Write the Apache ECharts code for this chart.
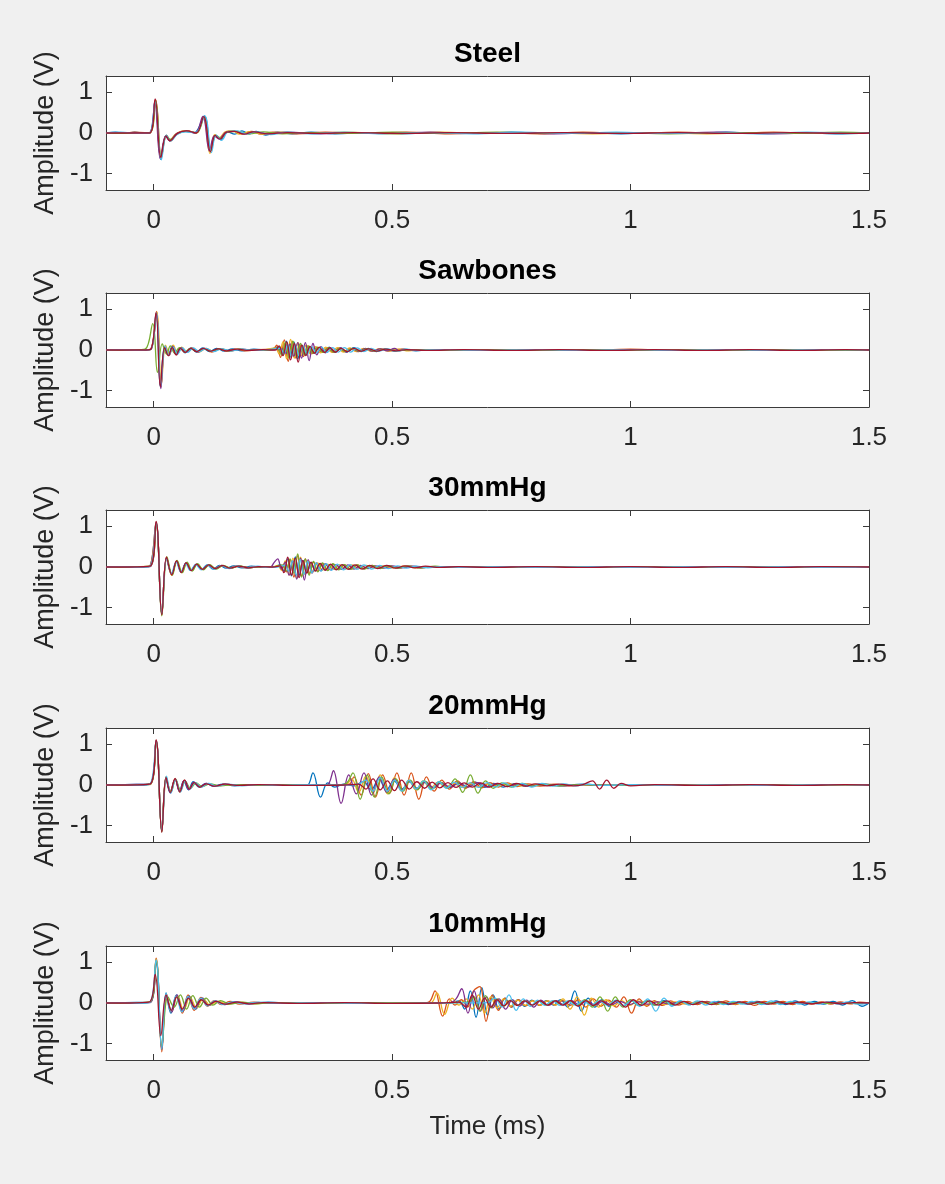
<!DOCTYPE html>
<html>
<head>
<meta charset="utf-8">
<script src="https://cdn.jsdelivr.net/npm/echarts@6/dist/echarts.min.js"></script>
<style>
html,body{margin:0;padding:0;background:#f0f0f0;}
#chart{width:945px;height:1184px;}
</style>
</head>
<body>
<div id="chart"></div>
<script>
// ---------- DATA ----------
const panelTitles = ['Steel', 'Sawbones', '30mmHg', '20mmHg', '10mmHg'];
const xTicks = [0, 0.5, 1, 1.5];
const yTicks = [-1, 0, 1];
const xRange = [-0.1, 1.5];
const yRange = [-1.4, 1.4];
const traceColors = ['#0072BD', '#D95319', '#EDB120', '#7E2F8E', '#77AC30', '#4DBEEE', '#A2142F'];

const steel = [
  [[-0.1,0],[-0.08,0.02],[-0.06,-0.01],[-0.04,0.02],[-0.02,0],[-0.008,0.01],[0.003,0.78],[0.015,-0.65],[0.026,-0.06],[0.034,-0.18],[0.048,-0.02],[0.065,0.04],[0.085,0.01],[0.106,0.42],[0.12,-0.42],[0.13,-0.05],[0.14,-0.16],[0.155,0.03],[0.17,-0.03],[0.185,0.05],[0.2,-0.02],[0.215,0.04],[0.235,-0.05],[0.26,0.02],[0.29,-0.02],[0.33,0.02],[0.38,-0.02],[0.45,0.01],[0.52,-0.02],[0.6,0.01],[0.68,-0.01],[0.75,0.02],[0.83,-0.01],[0.9,0.01],[0.98,-0.02],[1.05,0.01],[1.13,-0.01],[1.2,0.02],[1.28,-0.01],[1.35,0.01],[1.43,-0.02],[1.5,0]],
  [[-0.1,0],[-0.07,-0.01],[-0.04,0.02],[-0.01,0],[0.004,0.82],[0.016,-0.6],[0.027,-0.05],[0.035,-0.2],[0.05,0],[0.07,0.05],[0.088,0],[0.105,0.4],[0.119,-0.45],[0.129,-0.06],[0.139,-0.14],[0.152,0.02],[0.168,0.05],[0.185,-0.02],[0.205,0.04],[0.225,-0.03],[0.25,0.02],[0.3,-0.02],[0.36,0.02],[0.44,-0.01],[0.53,0.02],[0.62,-0.02],[0.72,0.01],[0.81,-0.02],[0.9,0.02],[1.0,-0.01],[1.1,0.02],[1.2,-0.01],[1.3,0.02],[1.4,-0.01],[1.5,0]],
  [[-0.1,0],[-0.05,0.01],[-0.009,0],[0.003,0.75],[0.015,-0.62],[0.026,-0.08],[0.033,-0.17],[0.047,-0.02],[0.066,0.06],[0.09,0],[0.104,0.38],[0.118,-0.5],[0.128,-0.04],[0.137,-0.12],[0.15,0.03],[0.165,0.06],[0.18,-0.03],[0.2,0.03],[0.23,-0.03],[0.27,0.02],[0.33,-0.01],[0.4,0.02],[0.5,-0.02],[0.6,0.02],[0.7,-0.01],[0.8,0.01],[0.92,-0.02],[1.04,0.01],[1.16,-0.02],[1.28,0.01],[1.4,-0.01],[1.5,0]],
  [[-0.1,0],[-0.06,0.01],[-0.009,0],[0.002,0.76],[0.014,-0.63],[0.025,-0.07],[0.033,-0.19],[0.049,-0.01],[0.068,0.05],[0.087,0],[0.103,0.41],[0.117,-0.44],[0.127,-0.07],[0.137,-0.15],[0.152,0.02],[0.17,0.04],[0.19,-0.02],[0.21,0.03],[0.24,-0.02],[0.28,0.02],[0.35,-0.02],[0.42,0.01],[0.5,-0.01],[0.58,0.02],[0.66,-0.01],[0.74,0.01],[0.84,-0.02],[0.94,0.01],[1.06,-0.01],[1.18,0.02],[1.3,-0.02],[1.42,0.01],[1.5,0]],
  [[-0.1,0],[-0.05,-0.01],[-0.009,0],[0.004,0.8],[0.016,-0.58],[0.027,-0.06],[0.035,-0.16],[0.05,-0.02],[0.068,0.04],[0.09,0.01],[0.106,0.39],[0.12,-0.43],[0.131,-0.06],[0.141,-0.13],[0.155,0.02],[0.175,0.04],[0.2,-0.02],[0.23,0.03],[0.27,-0.02],[0.32,0.01],[0.4,-0.01],[0.5,0.02],[0.6,-0.01],[0.72,0.02],[0.84,-0.01],[0.96,0.01],[1.08,-0.02],[1.2,0.01],[1.32,-0.01],[1.44,0.02],[1.5,0]],
  [[-0.1,0],[-0.07,0.02],[-0.03,-0.01],[-0.009,0],[0.003,0.77],[0.016,-0.66],[0.027,-0.05],[0.035,-0.2],[0.05,-0.03],[0.067,0.03],[0.088,0.01],[0.107,0.42],[0.121,-0.48],[0.131,-0.05],[0.142,-0.18],[0.157,0.04],[0.175,0.05],[0.195,-0.02],[0.215,0.03],[0.245,-0.04],[0.28,0.02],[0.33,-0.02],[0.4,0.02],[0.48,-0.02],[0.57,0.01],[0.67,-0.02],[0.77,0.02],[0.87,-0.01],[0.97,0.02],[1.07,-0.01],[1.17,0.01],[1.27,-0.02],[1.37,0.02],[1.47,-0.01],[1.5,0]],
  [[-0.1,0],[-0.06,0],[-0.009,0],[0.003,0.84],[0.015,-0.6],[0.026,-0.07],[0.034,-0.19],[0.05,-0.01],[0.069,0.05],[0.089,0],[0.105,0.4],[0.119,-0.46],[0.129,-0.06],[0.139,-0.15],[0.153,0.02],[0.17,0.04],[0.19,-0.03],[0.21,0.03],[0.24,-0.02],[0.28,0.01],[0.34,-0.01],[0.42,0.01],[0.52,-0.01],[0.62,0.01],[0.74,-0.01],[0.86,0.01],[0.98,-0.01],[1.1,0.01],[1.22,-0.01],[1.34,0.01],[1.46,-0.01],[1.5,0]]
];

const sawbones = [
  [[-0.1,0],[-0.06,0.01],[-0.02,0],[-0.006,0.02],[0.005,0.9],[0.014,-0.9],[0.023,0.08],[0.031,-0.12],[0.039,0.1],[0.047,-0.1],[0.056,0.06],[0.066,-0.07],[0.078,0.05],[0.09,-0.05],[0.103,0.05],[0.117,-0.04],[0.132,0.04],[0.148,-0.03],[0.165,0.03],[0.185,-0.02],[0.21,0.02],[0.24,0],[0.262,0.08],[0.27,-0.12],[0.278,0.22],[0.286,-0.18],[0.294,0.2],[0.302,-0.22],[0.31,0.12],[0.318,-0.12],[0.327,0.08],[0.336,-0.07],[0.346,0.06],[0.357,-0.06],[0.368,0.07],[0.38,-0.06],[0.392,0.05],[0.405,-0.05],[0.42,0.06],[0.435,-0.04],[0.45,0.04],[0.467,-0.04],[0.485,0.03],[0.505,-0.03],[0.525,0.02],[0.55,-0.02],[0.58,0.01],[0.65,-0.01],[0.75,0.01],[0.85,-0.01],[0.95,0.01],[1.05,-0.01],[1.15,0.01],[1.25,-0.01],[1.35,0.01],[1.45,-0.01],[1.5,0]],
  [[-0.1,0],[-0.05,-0.01],[-0.02,0],[-0.006,0.03],[0.006,0.95],[0.015,-0.92],[0.024,0.1],[0.032,-0.14],[0.04,0.08],[0.048,-0.12],[0.057,0.05],[0.067,-0.06],[0.08,0.05],[0.093,-0.04],[0.107,0.04],[0.122,-0.05],[0.137,0.03],[0.153,-0.03],[0.172,0.02],[0.195,-0.02],[0.22,0.01],[0.25,0.02],[0.258,0.12],[0.266,-0.18],[0.274,0.25],[0.282,-0.28],[0.29,0.22],[0.298,-0.2],[0.306,0.14],[0.314,-0.16],[0.323,0.1],[0.332,-0.09],[0.342,0.07],[0.353,-0.06],[0.364,0.05],[0.376,-0.06],[0.388,0.05],[0.4,-0.04],[0.413,0.04],[0.427,-0.04],[0.442,0.03],[0.458,-0.03],[0.475,0.03],[0.495,-0.02],[0.52,0.02],[0.55,-0.01],[0.6,0.01],[0.7,-0.01],[0.8,0.01],[0.9,-0.01],[1.0,0.02],[1.1,-0.01],[1.2,0.01],[1.3,-0.01],[1.4,0.01],[1.5,0]],
  [[-0.1,0],[-0.04,0.01],[-0.015,0],[-0.004,0.05],[0.007,0.93],[0.016,-0.85],[0.025,0.12],[0.033,-0.1],[0.041,0.12],[0.05,-0.08],[0.059,0.07],[0.07,-0.05],[0.082,0.04],[0.095,-0.05],[0.11,0.04],[0.125,-0.03],[0.142,0.03],[0.16,-0.02],[0.18,0.02],[0.205,-0.01],[0.235,0.01],[0.255,0.05],[0.263,-0.1],[0.271,0.2],[0.279,-0.22],[0.287,0.26],[0.295,-0.2],[0.303,0.18],[0.311,-0.14],[0.32,0.12],[0.329,-0.1],[0.339,0.08],[0.35,-0.07],[0.361,0.07],[0.373,-0.05],[0.385,0.06],[0.398,-0.05],[0.411,0.05],[0.425,-0.04],[0.44,0.04],[0.456,-0.03],[0.473,0.03],[0.492,-0.03],[0.512,0.02],[0.535,-0.02],[0.56,0.01],[0.62,-0.01],[0.72,0.01],[0.82,-0.01],[0.92,0.01],[1.02,-0.01],[1.12,0.01],[1.22,-0.01],[1.32,0.01],[1.42,-0.01],[1.5,0]],
  [[-0.1,0],[-0.05,0.01],[-0.016,0],[-0.005,0.03],[0.006,0.88],[0.015,-0.95],[0.024,0.08],[0.032,-0.13],[0.04,0.09],[0.049,-0.11],[0.058,0.06],[0.068,-0.06],[0.08,0.04],[0.093,-0.05],[0.107,0.04],[0.122,-0.03],[0.14,0.03],[0.16,-0.02],[0.185,0.02],[0.215,-0.01],[0.245,0],[0.27,0.02],[0.278,-0.08],[0.286,0.15],[0.294,-0.15],[0.302,0.18],[0.31,-0.2],[0.318,0.18],[0.326,-0.26],[0.334,0.16],[0.342,-0.12],[0.351,0.08],[0.36,-0.07],[0.37,0.06],[0.381,-0.05],[0.392,0.05],[0.404,-0.05],[0.417,0.04],[0.43,-0.04],[0.444,0.04],[0.459,-0.03],[0.475,0.03],[0.49,-0.02],[0.505,0.04],[0.515,-0.02],[0.53,0.01],[0.57,-0.01],[0.65,0.01],[0.75,-0.01],[0.85,0.01],[0.95,-0.01],[1.05,0.01],[1.15,-0.01],[1.25,0.01],[1.35,-0.01],[1.45,0.01],[1.5,0]],
  [[-0.1,0],[-0.04,0],[-0.018,0.02],[-0.002,0.65],[0.008,-0.55],[0.018,0.15],[0.027,-0.1],[0.035,0.1],[0.044,-0.08],[0.054,0.06],[0.065,-0.05],[0.077,0.04],[0.09,-0.04],[0.105,0.03],[0.12,-0.03],[0.138,0.03],[0.158,-0.02],[0.18,0.02],[0.21,-0.01],[0.24,0],[0.26,0.03],[0.268,-0.12],[0.276,0.18],[0.284,-0.2],[0.292,0.22],[0.3,-0.18],[0.308,0.16],[0.316,-0.12],[0.325,0.1],[0.334,-0.08],[0.344,0.07],[0.355,-0.06],[0.366,0.05],[0.378,-0.05],[0.39,0.04],[0.403,-0.04],[0.417,0.04],[0.432,-0.03],[0.448,0.03],[0.466,-0.03],[0.485,0.02],[0.51,-0.02],[0.54,0.01],[0.6,-0.01],[0.7,0.01],[0.8,-0.01],[0.9,0.01],[1.0,-0.01],[1.1,0.01],[1.2,-0.01],[1.3,0.01],[1.4,-0.01],[1.5,0]],
  [[-0.1,0],[-0.07,0.01],[-0.03,-0.01],[-0.015,0],[-0.004,0.04],[0.006,0.92],[0.015,-0.88],[0.024,0.1],[0.032,-0.12],[0.041,0.07],[0.05,-0.1],[0.06,0.05],[0.071,-0.06],[0.083,0.05],[0.096,-0.04],[0.11,0.04],[0.126,-0.04],[0.143,0.03],[0.162,-0.02],[0.185,0.02],[0.212,-0.01],[0.24,0.01],[0.265,0.04],[0.273,-0.1],[0.281,0.14],[0.289,-0.16],[0.297,0.12],[0.305,-0.14],[0.313,0.1],[0.322,-0.1],[0.331,0.08],[0.341,-0.07],[0.352,0.07],[0.363,-0.06],[0.375,0.06],[0.387,-0.05],[0.4,0.06],[0.413,-0.05],[0.427,0.05],[0.441,-0.04],[0.456,0.04],[0.472,-0.03],[0.49,0.03],[0.51,-0.02],[0.53,0.02],[0.555,-0.01],[0.6,0.01],[0.7,-0.01],[0.8,0.01],[0.9,-0.01],[1.0,0.01],[1.1,-0.01],[1.2,0.01],[1.3,-0.01],[1.4,0.01],[1.5,0]],
  [[-0.1,0],[-0.05,0],[-0.016,0],[-0.005,0.03],[0.005,0.92],[0.014,-0.9],[0.023,0.06],[0.031,-0.14],[0.039,0.06],[0.047,-0.12],[0.056,0.04],[0.066,-0.06],[0.078,0.04],[0.09,-0.04],[0.104,0.04],[0.119,-0.03],[0.135,0.03],[0.153,-0.02],[0.175,0.02],[0.2,-0.01],[0.23,0.01],[0.255,0],[0.263,0.1],[0.271,-0.14],[0.279,0.2],[0.287,-0.24],[0.295,0.16],[0.303,-0.3],[0.311,0.12],[0.319,-0.14],[0.328,0.09],[0.337,-0.08],[0.347,0.07],[0.358,-0.06],[0.369,0.05],[0.381,-0.05],[0.393,0.04],[0.406,-0.04],[0.42,0.04],[0.435,-0.03],[0.451,0.03],[0.468,-0.03],[0.487,0.02],[0.508,-0.02],[0.53,0.01],[0.57,-0.01],[0.65,0.01],[0.75,-0.01],[0.85,0.01],[0.95,-0.01],[1.05,0.01],[1.15,-0.01],[1.25,0.01],[1.35,-0.01],[1.45,0.01],[1.5,0]]
];

const mmHg30 = [
  [[-0.1,0],[-0.06,0.01],[-0.02,0],[-0.008,0.02],[0.005,1.08],[0.017,-1.15],[0.027,0.22],[0.038,-0.18],[0.048,0.14],[0.058,-0.13],[0.068,0.1],[0.078,-0.08],[0.089,0.07],[0.1,-0.06],[0.112,0.05],[0.125,-0.05],[0.138,0.04],[0.152,-0.03],[0.168,0.03],[0.185,-0.02],[0.205,0.02],[0.23,-0.01],[0.255,0.01],[0.265,0.06],[0.273,-0.1],[0.281,0.2],[0.289,-0.22],[0.297,0.25],[0.305,-0.2],[0.313,0.16],[0.321,-0.14],[0.33,0.1],[0.339,-0.09],[0.349,0.08],[0.36,-0.07],[0.371,0.06],[0.383,-0.06],[0.396,0.05],[0.41,-0.05],[0.425,0.04],[0.44,-0.04],[0.456,0.03],[0.473,-0.03],[0.492,0.03],[0.512,-0.02],[0.535,0.02],[0.56,-0.02],[0.59,0.01],[0.63,-0.01],[0.7,0.01],[0.8,-0.01],[0.9,0.01],[1.0,-0.01],[1.1,0.01],[1.2,-0.01],[1.3,0.01],[1.4,-0.01],[1.5,0]],
  [[-0.1,0],[-0.05,-0.01],[-0.02,0],[-0.008,0.02],[0.005,1.1],[0.017,-1.18],[0.027,0.25],[0.038,-0.2],[0.048,0.15],[0.058,-0.14],[0.069,0.1],[0.079,-0.09],[0.09,0.06],[0.102,-0.06],[0.115,0.05],[0.128,-0.04],[0.142,0.04],[0.157,-0.03],[0.173,0.02],[0.192,-0.02],[0.215,0.01],[0.245,0],[0.27,0.03],[0.278,-0.12],[0.286,0.18],[0.294,-0.25],[0.302,0.28],[0.31,-0.22],[0.318,0.2],[0.326,-0.16],[0.335,0.12],[0.344,-0.1],[0.354,0.08],[0.365,-0.08],[0.376,0.07],[0.388,-0.06],[0.4,0.05],[0.413,-0.05],[0.427,0.05],[0.442,-0.04],[0.458,0.04],[0.475,-0.03],[0.493,0.03],[0.513,-0.02],[0.535,0.02],[0.56,-0.02],[0.59,0.01],[0.64,-0.01],[0.7,0.01],[0.8,-0.01],[0.9,0.01],[1.0,-0.01],[1.1,0.01],[1.2,-0.01],[1.3,0.01],[1.4,-0.01],[1.5,0]],
  [[-0.1,0],[-0.04,0.01],[-0.008,0.02],[0.005,1.05],[0.017,-1.12],[0.027,0.2],[0.038,-0.2],[0.048,0.12],[0.059,-0.14],[0.069,0.08],[0.08,-0.08],[0.091,0.06],[0.103,-0.05],[0.116,0.05],[0.13,-0.04],[0.145,0.03],[0.162,-0.03],[0.18,0.02],[0.2,-0.02],[0.225,0.01],[0.25,0],[0.26,0.04],[0.268,-0.08],[0.276,0.15],[0.284,-0.2],[0.292,0.22],[0.3,-0.28],[0.308,0.24],[0.316,-0.18],[0.325,0.14],[0.334,-0.12],[0.344,0.1],[0.354,-0.08],[0.365,0.07],[0.377,-0.06],[0.389,0.06],[0.402,-0.05],[0.416,0.05],[0.43,-0.04],[0.446,0.04],[0.463,-0.03],[0.48,0.03],[0.5,-0.02],[0.525,0.02],[0.55,-0.02],[0.58,0.01],[0.62,-0.01],[0.68,0.01],[0.78,-0.01],[0.88,0.01],[0.98,-0.01],[1.08,0.01],[1.18,-0.01],[1.28,0.01],[1.38,-0.01],[1.5,0]],
  [[-0.1,0],[-0.06,0.01],[-0.008,0.01],[0.005,1.07],[0.017,-1.16],[0.027,0.23],[0.038,-0.17],[0.048,0.13],[0.058,-0.12],[0.068,0.09],[0.079,-0.08],[0.09,0.06],[0.102,-0.06],[0.115,0.04],[0.129,-0.04],[0.144,0.03],[0.16,-0.03],[0.178,0.02],[0.2,-0.02],[0.225,0.01],[0.245,0],[0.252,0.1],[0.26,0.2],[0.268,-0.05],[0.276,0.12],[0.284,-0.2],[0.292,0.15],[0.3,-0.3],[0.308,0.22],[0.316,-0.32],[0.324,0.18],[0.332,-0.15],[0.341,0.1],[0.35,-0.09],[0.36,0.08],[0.371,-0.07],[0.382,0.06],[0.394,-0.06],[0.407,0.05],[0.42,-0.05],[0.434,0.04],[0.449,-0.04],[0.465,0.03],[0.482,-0.03],[0.5,0.03],[0.52,-0.02],[0.545,0.02],[0.57,-0.01],[0.62,0.01],[0.7,-0.01],[0.8,0.01],[0.9,-0.01],[1.0,0.01],[1.1,-0.01],[1.2,0.01],[1.3,-0.01],[1.4,0.01],[1.5,0]],
  [[-0.1,0],[-0.05,0],[-0.008,0.02],[0.005,1.06],[0.017,-1.2],[0.028,0.25],[0.039,-0.2],[0.049,0.16],[0.06,-0.14],[0.07,0.12],[0.081,-0.1],[0.092,0.08],[0.104,-0.07],[0.117,0.06],[0.131,-0.05],[0.146,0.04],[0.162,-0.03],[0.18,0.03],[0.2,-0.02],[0.225,0.01],[0.25,0],[0.27,0.05],[0.278,-0.1],[0.286,0.2],[0.294,-0.15],[0.302,0.32],[0.31,-0.25],[0.318,0.2],[0.326,-0.2],[0.335,0.14],[0.344,-0.12],[0.354,0.1],[0.365,-0.09],[0.376,0.08],[0.388,-0.07],[0.4,0.06],[0.413,-0.06],[0.427,0.05],[0.442,-0.05],[0.458,0.04],[0.475,-0.04],[0.493,0.03],[0.513,-0.03],[0.535,0.02],[0.56,-0.02],[0.59,0.02],[0.62,-0.01],[0.66,0.01],[0.75,-0.01],[0.85,0.01],[0.95,-0.01],[1.05,0.01],[1.15,-0.01],[1.25,0.01],[1.35,-0.01],[1.45,0.01],[1.5,0]],
  [[-0.1,0],[-0.07,0.01],[-0.03,-0.01],[-0.008,0.02],[0.005,1.09],[0.017,-1.14],[0.027,0.2],[0.037,-0.16],[0.047,0.12],[0.057,-0.12],[0.067,0.08],[0.077,-0.09],[0.088,0.06],[0.1,-0.07],[0.113,0.05],[0.127,-0.05],[0.142,0.04],[0.158,-0.04],[0.175,0.03],[0.195,-0.02],[0.218,0.02],[0.24,-0.01],[0.26,0],[0.275,0.04],[0.283,-0.1],[0.291,0.15],[0.299,-0.2],[0.307,0.18],[0.315,-0.18],[0.323,0.14],[0.332,-0.14],[0.341,0.1],[0.351,-0.1],[0.362,0.08],[0.373,-0.08],[0.385,0.07],[0.398,-0.07],[0.412,0.06],[0.426,-0.06],[0.441,0.05],[0.457,-0.05],[0.474,0.04],[0.492,-0.04],[0.511,0.03],[0.53,-0.03],[0.55,0.02],[0.575,-0.02],[0.6,0.01],[0.65,-0.01],[0.72,0.01],[0.82,-0.01],[0.92,0.01],[1.02,-0.01],[1.12,0.01],[1.22,-0.01],[1.32,0.01],[1.42,-0.01],[1.5,0]],
  [[-0.1,0],[-0.05,0],[-0.008,0.02],[0.005,1.12],[0.017,-1.17],[0.027,0.24],[0.038,-0.19],[0.048,0.15],[0.058,-0.13],[0.068,0.1],[0.079,-0.09],[0.09,0.07],[0.102,-0.06],[0.115,0.05],[0.129,-0.04],[0.144,0.04],[0.16,-0.03],[0.178,0.02],[0.198,-0.02],[0.22,0.01],[0.25,0],[0.265,0.03],[0.273,-0.14],[0.281,0.24],[0.289,-0.2],[0.297,0.22],[0.305,-0.26],[0.313,0.16],[0.321,-0.15],[0.33,0.12],[0.339,-0.1],[0.349,0.09],[0.36,-0.08],[0.371,0.07],[0.383,-0.07],[0.395,0.06],[0.408,-0.06],[0.422,0.05],[0.437,-0.05],[0.453,0.04],[0.47,-0.04],[0.488,0.04],[0.507,-0.03],[0.527,0.03],[0.548,-0.02],[0.57,0.02],[0.6,-0.01],[0.64,0.01],[0.7,-0.01],[0.8,0.01],[0.9,-0.01],[1.0,0.01],[1.1,-0.01],[1.2,0.01],[1.3,-0.01],[1.4,0.01],[1.5,0]]
];

const mmHg20 = [
  [[-0.1,0],[-0.06,0.01],[-0.008,0.02],[0.005,1.08],[0.017,-1.12],[0.026,0.18],[0.034,-0.18],[0.045,0.14],[0.054,-0.16],[0.063,0.1],[0.073,-0.12],[0.083,0.08],[0.095,-0.05],[0.11,0.04],[0.125,-0.03],[0.145,0.02],[0.17,-0.02],[0.2,0.01],[0.25,-0.01],[0.3,0.01],[0.322,0],[0.334,0.3],[0.35,-0.3],[0.365,0.05],[0.38,-0.05],[0.4,0.03],[0.42,-0.02],[0.44,0.08],[0.456,-0.12],[0.472,0.15],[0.488,-0.12],[0.504,0.1],[0.52,-0.1],[0.536,0.08],[0.552,-0.08],[0.568,0.06],[0.585,-0.07],[0.602,0.06],[0.62,-0.06],[0.638,0.05],[0.656,-0.05],[0.675,0.07],[0.694,-0.06],[0.713,0.04],[0.733,-0.05],[0.755,0.03],[0.78,-0.03],[0.81,0.02],[0.85,-0.02],[0.9,0.02],[0.95,-0.01],[1.0,0.01],[1.1,-0.01],[1.2,0.01],[1.3,-0.01],[1.4,0.01],[1.5,0]],
  [[-0.1,0],[-0.05,-0.01],[-0.008,0.02],[0.005,1.1],[0.017,-1.14],[0.026,0.2],[0.035,-0.15],[0.045,0.16],[0.055,-0.18],[0.064,0.12],[0.074,-0.1],[0.085,0.06],[0.097,-0.05],[0.112,0.03],[0.13,-0.03],[0.15,0.02],[0.18,-0.01],[0.22,0.01],[0.3,-0.01],[0.38,0],[0.41,0.02],[0.42,0.2],[0.435,-0.25],[0.45,0.28],[0.465,-0.3],[0.48,0.25],[0.495,-0.2],[0.51,0.3],[0.525,-0.25],[0.54,0.3],[0.556,-0.35],[0.572,0.2],[0.588,-0.15],[0.604,0.12],[0.62,-0.1],[0.637,0.1],[0.654,-0.08],[0.671,0.08],[0.688,-0.07],[0.705,0.06],[0.723,-0.05],[0.742,0.05],[0.762,-0.04],[0.785,0.03],[0.81,-0.03],[0.84,0.02],[0.87,-0.02],[0.9,0.01],[0.95,-0.01],[1.05,0.01],[1.15,-0.01],[1.25,0.01],[1.35,-0.01],[1.45,0.01],[1.5,0]],
  [[-0.1,0],[-0.04,0.01],[-0.008,0.01],[0.005,1.05],[0.017,-1.1],[0.027,0.15],[0.036,-0.18],[0.046,0.12],[0.056,-0.14],[0.066,0.1],[0.076,-0.08],[0.087,0.05],[0.1,-0.04],[0.115,0.03],[0.135,-0.02],[0.16,0.01],[0.2,-0.01],[0.28,0.01],[0.38,0],[0.405,0.03],[0.415,0.15],[0.43,-0.18],[0.445,0.22],[0.46,-0.2],[0.475,0.25],[0.49,-0.22],[0.505,0.18],[0.52,-0.15],[0.535,0.12],[0.55,-0.12],[0.565,0.1],[0.58,-0.08],[0.596,0.07],[0.612,-0.06],[0.628,0.05],[0.645,-0.05],[0.662,0.04],[0.68,-0.04],[0.7,0.03],[0.72,-0.03],[0.745,0.02],[0.77,-0.02],[0.8,0.01],[0.85,-0.01],[0.95,0.01],[1.05,-0.01],[1.15,0.01],[1.25,-0.01],[1.35,0.01],[1.45,-0.01],[1.5,0]],
  [[-0.1,0],[-0.06,0.01],[-0.008,0.02],[0.005,1.07],[0.017,-1.13],[0.026,0.19],[0.035,-0.2],[0.045,0.15],[0.054,-0.15],[0.064,0.11],[0.074,-0.11],[0.085,0.07],[0.097,-0.05],[0.11,0.04],[0.127,-0.03],[0.15,0.02],[0.18,-0.01],[0.22,0.01],[0.3,-0.01],[0.36,0],[0.368,0.05],[0.377,0.35],[0.393,-0.45],[0.409,0.25],[0.425,-0.22],[0.441,0.3],[0.457,-0.25],[0.473,0.2],[0.489,-0.18],[0.505,0.15],[0.521,-0.12],[0.537,0.1],[0.553,-0.1],[0.57,0.08],[0.587,-0.07],[0.604,0.06],[0.622,-0.06],[0.64,0.05],[0.66,-0.05],[0.68,0.06],[0.7,-0.05],[0.72,0.04],[0.742,-0.04],[0.765,0.03],[0.79,-0.03],[0.82,0.02],[0.86,-0.02],[0.9,0.01],[0.96,-0.01],[1.05,0.01],[1.15,-0.01],[1.25,0.01],[1.35,-0.01],[1.45,0.01],[1.5,0]],
  [[-0.1,0],[-0.05,0],[-0.008,0.02],[0.005,1.06],[0.017,-1.15],[0.026,0.2],[0.036,-0.16],[0.046,0.14],[0.056,-0.12],[0.066,0.09],[0.077,-0.08],[0.089,0.05],[0.102,-0.04],[0.118,0.03],[0.14,-0.02],[0.17,0.01],[0.21,-0.01],[0.3,0.01],[0.39,0],[0.405,0.05],[0.418,0.3],[0.433,-0.35],[0.448,0.25],[0.463,-0.3],[0.478,0.2],[0.493,-0.22],[0.508,0.15],[0.523,-0.15],[0.538,0.12],[0.553,-0.12],[0.568,0.1],[0.584,-0.1],[0.6,0.08],[0.616,-0.08],[0.632,0.15],[0.648,-0.18],[0.664,0.25],[0.68,-0.2],[0.696,0.1],[0.712,-0.08],[0.73,0.05],[0.75,-0.05],[0.772,0.04],[0.795,-0.03],[0.82,0.02],[0.85,-0.02],[0.9,0.01],[0.96,-0.01],[1.05,0.01],[1.15,-0.01],[1.25,0.01],[1.35,-0.01],[1.45,0.01],[1.5,0]],
  [[-0.1,0],[-0.07,0.01],[-0.03,-0.01],[-0.008,0.02],[0.005,1.09],[0.017,-1.1],[0.027,0.22],[0.036,-0.2],[0.046,0.13],[0.056,-0.17],[0.066,0.1],[0.076,-0.1],[0.087,0.06],[0.1,-0.05],[0.115,0.04],[0.133,-0.03],[0.155,0.02],[0.185,-0.02],[0.22,0.01],[0.27,-0.01],[0.33,0.01],[0.4,0],[0.43,0.03],[0.445,0.12],[0.46,-0.15],[0.475,0.18],[0.49,-0.15],[0.505,0.12],[0.52,-0.15],[0.535,0.12],[0.55,-0.1],[0.566,0.1],[0.582,-0.12],[0.598,0.08],[0.614,-0.08],[0.63,0.07],[0.647,-0.06],[0.664,0.06],[0.681,-0.06],[0.699,0.06],[0.717,-0.05],[0.735,0.05],[0.754,-0.05],[0.773,0.04],[0.793,-0.05],[0.814,0.04],[0.836,-0.03],[0.86,0.03],[0.885,-0.02],[0.91,0.02],[0.94,-0.01],[1.0,0.01],[1.1,-0.01],[1.2,0.01],[1.3,-0.01],[1.4,0.01],[1.5,0]],
  [[-0.1,0],[-0.05,0],[-0.008,0.02],[0.005,1.11],[0.017,-1.16],[0.026,0.18],[0.035,-0.18],[0.045,0.15],[0.055,-0.16],[0.065,0.12],[0.075,-0.1],[0.085,0.06],[0.097,-0.05],[0.11,0.03],[0.128,-0.03],[0.15,0.02],[0.18,-0.01],[0.22,0.01],[0.3,-0.01],[0.4,0],[0.43,0.02],[0.445,-0.1],[0.46,0.15],[0.475,-0.12],[0.49,0.1],[0.505,-0.14],[0.52,0.12],[0.536,-0.1],[0.552,0.08],[0.568,-0.08],[0.584,0.07],[0.6,-0.07],[0.617,0.06],[0.634,-0.06],[0.651,0.05],[0.668,-0.05],[0.686,0.05],[0.704,-0.05],[0.722,0.04],[0.741,-0.04],[0.76,0.04],[0.78,-0.03],[0.8,0.03],[0.825,-0.02],[0.85,0.02],[0.88,-0.02],[0.9,0.01],[0.92,0.1],[0.935,-0.1],[0.95,0.12],[0.965,-0.08],[0.98,0.04],[1.0,-0.02],[1.05,0.01],[1.15,-0.01],[1.25,0.01],[1.35,-0.01],[1.45,0.01],[1.5,0]]
];

const mmHg10 = [
  [[-0.1,0],[-0.06,0.01],[-0.008,0.02],[0.005,1.05],[0.017,-1.15],[0.026,0.25],[0.036,-0.25],[0.048,0.2],[0.061,-0.2],[0.074,0.18],[0.088,-0.15],[0.103,0.12],[0.117,-0.06],[0.13,0.04],[0.15,-0.04],[0.17,0.03],[0.2,-0.02],[0.24,0.02],[0.3,-0.01],[0.4,0.01],[0.5,-0.01],[0.62,0],[0.64,0.05],[0.652,-0.15],[0.664,0.3],[0.676,-0.35],[0.688,0.38],[0.7,-0.3],[0.712,0.2],[0.724,-0.15],[0.737,0.12],[0.75,-0.1],[0.764,0.08],[0.778,-0.08],[0.793,0.07],[0.808,-0.06],[0.823,0.06],[0.838,-0.05],[0.853,0.08],[0.868,-0.1],[0.883,0.3],[0.897,-0.2],[0.911,0.12],[0.925,-0.1],[0.94,0.08],[0.955,-0.08],[0.97,0.07],[0.986,-0.07],[1.002,0.06],[1.018,-0.06],[1.035,0.05],[1.052,-0.05],[1.07,0.06],[1.088,-0.05],[1.106,0.04],[1.125,-0.04],[1.145,0.04],[1.165,-0.03],[1.185,0.04],[1.205,-0.04],[1.225,0.03],[1.245,-0.03],[1.265,0.04],[1.285,-0.03],[1.305,0.05],[1.325,-0.04],[1.345,0.05],[1.365,-0.05],[1.385,0.04],[1.405,-0.03],[1.425,0.04],[1.445,-0.05],[1.465,0.06],[1.485,-0.08],[1.5,0]],
  [[-0.1,0],[-0.05,-0.01],[-0.008,0.02],[0.005,1.1],[0.017,-1.2],[0.027,0.22],[0.037,-0.22],[0.048,0.18],[0.06,-0.25],[0.072,0.2],[0.085,-0.18],[0.099,0.14],[0.113,-0.08],[0.127,0.06],[0.142,-0.04],[0.16,0.04],[0.18,-0.03],[0.21,0.02],[0.25,-0.01],[0.35,0.01],[0.45,-0.01],[0.57,0],[0.58,0.05],[0.59,0.3],[0.606,-0.32],[0.62,0.1],[0.632,-0.05],[0.645,0.08],[0.658,-0.1],[0.671,0.3],[0.684,0.4],[0.697,-0.45],[0.71,0.2],[0.723,-0.18],[0.736,0.12],[0.75,-0.1],[0.765,0.08],[0.78,-0.07],[0.795,0.06],[0.81,-0.06],[0.826,0.05],[0.842,-0.05],[0.858,0.06],[0.874,-0.06],[0.89,0.08],[0.906,-0.1],[0.922,0.1],[0.938,-0.08],[0.954,0.07],[0.97,-0.1],[0.986,0.15],[1.002,-0.25],[1.018,0.1],[1.034,-0.08],[1.05,0.06],[1.067,-0.06],[1.084,0.05],[1.101,-0.05],[1.12,0.04],[1.14,-0.04],[1.16,0.04],[1.18,-0.04],[1.2,0.05],[1.22,-0.04],[1.24,0.04],[1.26,-0.06],[1.28,0.04],[1.3,-0.03],[1.32,0.04],[1.34,-0.04],[1.36,0.04],[1.38,-0.03],[1.4,0.03],[1.42,-0.03],[1.44,0.03],[1.46,-0.02],[1.48,0.02],[1.5,0]],
  [[-0.1,0],[-0.04,0.01],[-0.008,0.02],[0.005,1.08],[0.017,-1.1],[0.027,0.2],[0.038,-0.2],[0.05,0.18],[0.063,-0.18],[0.076,0.15],[0.09,-0.12],[0.104,0.1],[0.118,-0.05],[0.135,0.04],[0.155,-0.03],[0.18,0.02],[0.21,-0.02],[0.25,0.01],[0.35,-0.01],[0.45,0.01],[0.58,0],[0.594,0.25],[0.61,-0.28],[0.626,0.12],[0.64,-0.05],[0.655,0.1],[0.668,-0.15],[0.681,0.2],[0.694,-0.25],[0.707,0.15],[0.72,-0.12],[0.734,0.1],[0.748,-0.08],[0.763,0.07],[0.778,-0.06],[0.794,0.05],[0.81,-0.05],[0.826,0.05],[0.842,-0.05],[0.858,0.1],[0.873,-0.15],[0.888,0.15],[0.903,-0.3],[0.918,0.12],[0.933,-0.1],[0.949,0.08],[0.965,-0.07],[0.981,0.06],[0.998,-0.06],[1.015,0.05],[1.033,-0.05],[1.052,0.04],[1.072,-0.04],[1.093,0.03],[1.115,-0.03],[1.14,0.03],[1.165,-0.02],[1.19,0.02],[1.22,-0.02],[1.26,0.02],[1.3,-0.01],[1.35,0.01],[1.4,-0.01],[1.45,0.01],[1.5,0]],
  [[-0.1,0],[-0.06,0.01],[-0.008,0.01],[0.005,1.0],[0.017,-1.12],[0.027,0.18],[0.038,-0.22],[0.049,0.2],[0.061,-0.2],[0.074,0.16],[0.087,-0.14],[0.101,0.12],[0.115,-0.06],[0.13,0.05],[0.148,-0.04],[0.17,0.03],[0.2,-0.02],[0.24,0.01],[0.3,-0.01],[0.4,0.01],[0.5,-0.01],[0.62,0],[0.634,0.1],[0.646,0.35],[0.659,-0.25],[0.672,0.3],[0.685,-0.2],[0.698,0.15],[0.711,-0.12],[0.724,0.1],[0.738,-0.15],[0.752,0.08],[0.767,-0.08],[0.782,0.07],[0.797,-0.1],[0.812,0.07],[0.828,-0.06],[0.844,0.06],[0.86,-0.05],[0.876,0.06],[0.892,-0.05],[0.908,0.05],[0.925,-0.05],[0.942,0.04],[0.96,-0.04],[0.978,0.04],[0.997,-0.04],[1.016,0.03],[1.036,-0.03],[1.057,0.03],[1.08,-0.02],[1.105,0.02],[1.13,-0.02],[1.16,0.02],[1.2,-0.01],[1.25,0.01],[1.3,-0.01],[1.4,0.01],[1.5,0]],
  [[-0.1,0],[-0.05,0],[-0.008,0.02],[0.005,1.02],[0.017,-1.05],[0.03,0.15],[0.043,-0.1],[0.056,0.2],[0.069,-0.15],[0.082,0.18],[0.096,-0.1],[0.11,0.12],[0.124,-0.05],[0.14,0.06],[0.16,-0.03],[0.185,0.02],[0.215,-0.02],[0.25,0.01],[0.35,-0.01],[0.45,0.01],[0.6,0],[0.66,0.02],[0.672,0.15],[0.684,-0.2],[0.696,0.18],[0.708,-0.12],[0.72,0.1],[0.734,-0.08],[0.748,0.07],[0.763,-0.06],[0.778,0.06],[0.793,-0.05],[0.808,0.05],[0.824,-0.05],[0.84,0.05],[0.856,-0.04],[0.872,0.05],[0.888,-0.06],[0.904,0.08],[0.92,-0.1],[0.936,0.15],[0.952,-0.2],[0.968,0.15],[0.984,-0.1],[1.0,0.08],[1.016,-0.06],[1.033,0.05],[1.05,-0.05],[1.068,0.04],[1.087,-0.04],[1.107,0.03],[1.128,-0.03],[1.15,0.02],[1.18,-0.02],[1.21,0.01],[1.25,-0.01],[1.35,0.01],[1.45,-0.01],[1.5,0]],
  [[-0.1,0],[-0.07,0.01],[-0.03,-0.01],[-0.008,0.02],[0.005,1.06],[0.017,-1.13],[0.026,0.24],[0.036,-0.2],[0.047,0.17],[0.059,-0.22],[0.072,0.16],[0.085,-0.15],[0.099,0.12],[0.113,-0.07],[0.128,0.05],[0.145,-0.04],[0.165,0.03],[0.19,-0.02],[0.22,0.02],[0.26,-0.01],[0.35,0.01],[0.45,-0.01],[0.6,0],[0.7,0.01],[0.715,0.12],[0.73,-0.1],[0.745,0.2],[0.76,-0.18],[0.775,0.1],[0.79,-0.08],[0.805,0.07],[0.82,-0.06],[0.836,0.06],[0.852,-0.06],[0.868,0.05],[0.884,-0.05],[0.9,0.05],[0.917,-0.05],[0.934,0.05],[0.951,-0.05],[0.968,0.05],[0.985,-0.06],[1.002,0.06],[1.019,-0.08],[1.036,0.1],[1.053,-0.2],[1.07,0.12],[1.087,-0.08],[1.104,0.06],[1.122,-0.05],[1.14,0.05],[1.158,-0.05],[1.176,0.04],[1.195,-0.04],[1.215,0.04],[1.235,-0.03],[1.255,0.04],[1.275,-0.04],[1.295,0.05],[1.315,-0.04],[1.335,0.04],[1.355,-0.03],[1.375,0.03],[1.395,-0.03],[1.415,0.03],[1.435,-0.03],[1.455,0.03],[1.475,-0.03],[1.5,0]],
  [[-0.1,0],[-0.05,0],[-0.01,0.02],[0.003,0.7],[0.015,-0.8],[0.026,0.2],[0.037,-0.18],[0.048,0.15],[0.06,-0.15],[0.073,0.12],[0.086,-0.1],[0.1,0.08],[0.114,-0.05],[0.13,0.04],[0.15,-0.03],[0.175,0.02],[0.2,-0.02],[0.23,0.01],[0.3,-0.01],[0.4,0.01],[0.5,-0.01],[0.6,0],[0.64,0.02],[0.655,-0.1],[0.668,0.2],[0.681,-0.15],[0.694,0.12],[0.707,-0.1],[0.72,0.08],[0.734,-0.07],[0.748,0.06],[0.763,-0.06],[0.778,0.05],[0.794,-0.05],[0.81,0.05],[0.826,-0.05],[0.842,0.05],[0.858,-0.05],[0.874,0.06],[0.89,-0.08],[0.906,0.06],[0.922,-0.06],[0.938,0.05],[0.955,-0.05],[0.972,0.06],[0.989,-0.1],[1.006,0.08],[1.023,-0.06],[1.04,0.05],[1.058,-0.05],[1.076,0.05],[1.094,-0.05],[1.112,0.04],[1.131,-0.04],[1.15,0.04],[1.17,-0.04],[1.19,0.03],[1.21,-0.03],[1.23,0.03],[1.25,-0.03],[1.27,0.03],[1.29,-0.03],[1.31,0.03],[1.33,-0.02],[1.35,0.02],[1.38,-0.02],[1.41,0.02],[1.44,-0.02],[1.47,0.01],[1.5,0]]
];

const panels = [steel, sawbones, mmHg30, mmHg20, mmHg10];

// ---------- LAYOUT ----------
const FONT = "'Liberation Sans', Arial, Helvetica, sans-serif";
const TXT = '#262626';
const BOX = '#3a3a3a';
const gridTops = [76, 293, 510, 728, 946];
const gridLeft = 106, gridRight = 76, gridH = 114;
const plotCenterX = gridLeft + (945 - gridLeft - gridRight) / 2;

const grid = [], xAxis = [], yAxis = [], series = [], title = [];

panels.forEach((traces, i) => {
  grid.push({ left: gridLeft, right: gridRight, top: gridTops[i], height: gridH,
    show: true, backgroundColor: '#ffffff', borderWidth: 0 });
  title.push({ text: panelTitles[i], left: plotCenterX, textAlign: 'center',
    top: gridTops[i] - 36, padding: 0,
    textStyle: { fontFamily: FONT, fontSize: 28, fontWeight: 'bold', color: '#000' } });
  const isLast = i === panels.length - 1;
  xAxis.push({ type: 'value', gridIndex: i, min: xRange[0], max: xRange[1], position: 'bottom',
    axisLine: { show: true, onZero: false, lineStyle: { color: BOX, width: 1 } },
    axisTick: { show: true, inside: true, length: 6, customValues: xTicks, lineStyle: { color: BOX } },
    axisLabel: { show: true, customValues: xTicks, fontSize: 26, color: TXT, fontFamily: FONT, margin: 18,
      formatter: v => String(v) },
    splitLine: { show: false },
    name: isLast ? 'Time (ms)' : '', nameLocation: 'middle', nameGap: 54,
    nameTextStyle: { fontSize: 26, color: TXT, fontFamily: FONT } });
  xAxis.push({ type: 'value', gridIndex: i, min: xRange[0], max: xRange[1], position: 'top',
    axisLine: { show: true, onZero: false, lineStyle: { color: BOX, width: 1 } },
    axisTick: { show: true, inside: true, length: 6, customValues: xTicks, lineStyle: { color: BOX } },
    axisLabel: { show: false }, splitLine: { show: false } });
  yAxis.push({ type: 'value', gridIndex: i, min: yRange[0], max: yRange[1], position: 'left',
    axisLine: { show: true, onZero: false, lineStyle: { color: BOX, width: 1 } },
    axisTick: { show: true, inside: true, length: 6, customValues: yTicks, lineStyle: { color: BOX } },
    axisLabel: { show: true, customValues: yTicks, fontSize: 26, color: TXT, fontFamily: FONT, margin: 13,
      formatter: v => String(v) },
    splitLine: { show: false },
    name: 'Amplitude (V)', nameLocation: 'middle', nameGap: 42,
    nameTextStyle: { fontSize: 27, color: TXT, fontFamily: FONT } });
  yAxis.push({ type: 'value', gridIndex: i, min: yRange[0], max: yRange[1], position: 'right',
    axisLine: { show: true, onZero: false, lineStyle: { color: BOX, width: 1 } },
    axisTick: { show: true, inside: true, length: 6, customValues: yTicks, lineStyle: { color: BOX } },
    axisLabel: { show: false }, splitLine: { show: false } });

  traces.forEach((trace, k) => {
    series.push({ type: 'line', xAxisIndex: 2 * i, yAxisIndex: 2 * i, data: trace,
      showSymbol: false, symbol: 'none', smooth: 0.4, silent: true,
      lineStyle: { width: 1.3, color: traceColors[k % traceColors.length] },
      z: 2 + k });
  });
});

const chart = echarts.init(document.getElementById('chart'), null, { renderer: 'canvas' });
chart.setOption({
  backgroundColor: '#f0f0f0',
  animation: false,
  title, grid, xAxis, yAxis, series
});
</script>
</body>
</html>
